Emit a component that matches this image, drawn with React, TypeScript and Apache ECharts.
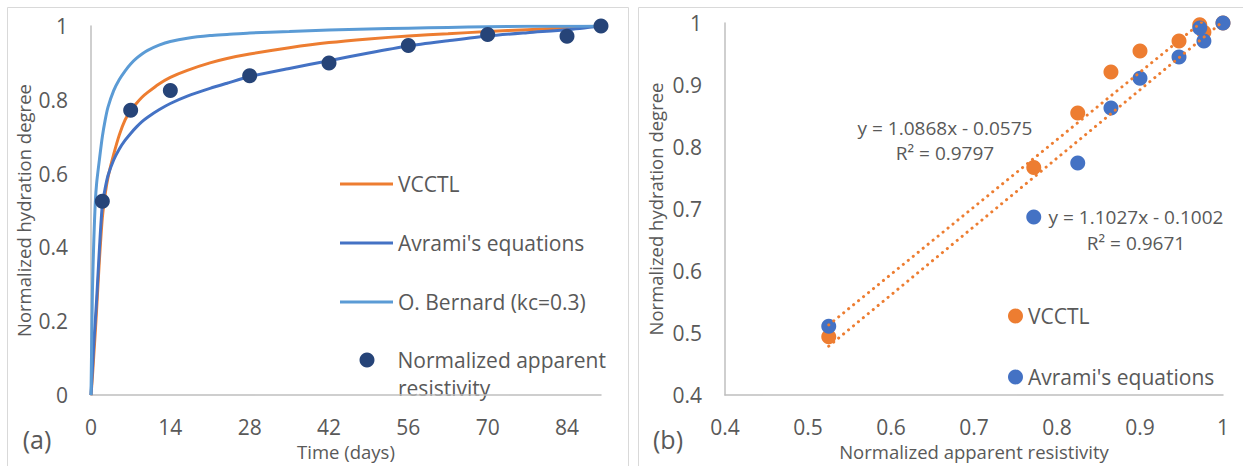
import React, { useEffect, useRef } from 'react';
import * as echarts from 'echarts';

// ---- Panel (a): model curves (days vs normalized hydration degree) ----
const curveDays = [0, 0.25, 0.5, 0.75, 1, 1.5, 2, 2.5, 3, 4, 5, 6, 7, 8, 9, 10, 12, 14, 17, 21, 24, 28, 35, 42, 49, 56, 63, 70, 77, 84, 90];
const vcctlCurve = [0, 0.05, 0.11, 0.17, 0.235, 0.37, 0.48, 0.545, 0.59, 0.652, 0.705, 0.745, 0.771, 0.79, 0.807, 0.82, 0.843, 0.861, 0.88, 0.9, 0.912, 0.924, 0.941, 0.955, 0.965, 0.973, 0.979, 0.985, 0.99, 0.995, 1.0];
const avramiCurve = [0, 0.07, 0.14, 0.2, 0.26, 0.4, 0.515, 0.56, 0.595, 0.637, 0.667, 0.69, 0.709, 0.726, 0.741, 0.753, 0.773, 0.79, 0.81, 0.831, 0.845, 0.863, 0.885, 0.906, 0.927, 0.946, 0.96, 0.973, 0.982, 0.99, 1.0];
const bernardCurve = [0, 0.28, 0.42, 0.52, 0.575, 0.64, 0.7, 0.745, 0.78, 0.825, 0.855, 0.878, 0.897, 0.912, 0.924, 0.934, 0.948, 0.958, 0.967, 0.974, 0.977, 0.981, 0.985, 0.989, 0.992, 0.994, 0.996, 0.998, 0.999, 0.999, 1.0];

// ---- Measured data ----
const measuredDays = [2, 7, 14, 28, 42, 56, 70, 84, 90];
const resistivity = [0.525, 0.772, 0.825, 0.865, 0.9, 0.947, 0.977, 0.972, 1.0];

// ---- Panel (b): model values at the measured days ----
const vcctlAtMeasured = [0.494, 0.767, 0.855, 0.921, 0.955, 0.971, 0.985, 0.997, 1.0];
const avramiAtMeasured = [0.511, 0.687, 0.774, 0.863, 0.911, 0.945, 0.971, 0.992, 1.0];

// ---- Trendlines (as printed on the chart) ----
const vcctlSlope = 1.0868;
const vcctlIntercept = -0.0575;
const vcctlR2 = '0.9797';
const avramiSlope = 1.1027;
const avramiIntercept = -0.1002;
const avramiR2 = '0.9671';

const ORANGE = '#ED7D31';
const BLUE = '#4472C4';
const LIGHT_BLUE = '#5B9BD5';
const NAVY = '#264478';
const TEXT = '#595959';
const AXIS = '#BFBFBF';
const FONT = '"Open Sans", "Noto Sans", sans-serif';

const zip = (xs: number[], ys: number[]) => xs.map((x, i) => [x, ys[i]]);

const trend = (slope: number, intercept: number) => {
  const lo = Math.min(...resistivity);
  const hi = Math.max(...resistivity);
  return [
    [lo, slope * lo + intercept],
    [hi, slope * hi + intercept],
  ];
};

export default function App() {
  const ref = useRef<HTMLDivElement>(null);

  useEffect(() => {
    if (!ref.current) return;
    const chart = echarts.init(ref.current, undefined, { renderer: 'svg' });

    const labelStyle = { color: TEXT, fontSize: 21, fontFamily: FONT };
    const nameStyle = { color: TEXT, fontSize: 18.5, fontFamily: FONT };
    const legendText = { color: TEXT, fontSize: 21, fontFamily: FONT, lineHeight: 24 };

    const lineSeries = (name: string, data: number[], color: string) => ({
      name,
      type: 'line',
      xAxisIndex: 0,
      yAxisIndex: 0,
      data: zip(curveDays, data),
      smooth: 0.25,
      symbol: 'none',
      lineStyle: { color, width: 3 },
      itemStyle: { color },
      z: 2,
    });

    const lineLegend = (name: string, top: number) => ({
      data: [{ name, icon: 'rect' }],
      left: 340,
      top,
      padding: 0,
      itemWidth: 53,
      itemHeight: 3,
      textStyle: legendText,
    });

    const option: any = {
      animation: false,
      backgroundColor: '#ffffff',
      grid: [
        { left: 91, top: 26, width: 510, height: 377 },
        { left: 725, top: 23, width: 498, height: 372 },
      ],
      xAxis: [
        {
          gridIndex: 0,
          type: 'value',
          min: 0,
          max: 90,
          interval: 14,
          name: 'Time (days)',
          nameLocation: 'middle',
          nameGap: 39,
          nameTextStyle: nameStyle,
          axisLine: { show: true, lineStyle: { color: AXIS, width: 1.5 } },
          axisTick: { show: false },
          splitLine: { show: false },
          axisLabel: { ...labelStyle, margin: 21, showMaxLabel: false },
        },
        {
          gridIndex: 1,
          type: 'value',
          min: 0.4,
          max: 1,
          interval: 0.1,
          name: 'Normalized apparent resistivity',
          nameLocation: 'middle',
          nameGap: 47,
          nameTextStyle: nameStyle,
          axisLine: { show: true, onZero: false, lineStyle: { color: AXIS, width: 1.5 } },
          axisTick: { show: false },
          splitLine: { show: false },
          axisLabel: { ...labelStyle, margin: 21 },
        },
      ],
      yAxis: [
        {
          gridIndex: 0,
          type: 'value',
          min: 0,
          max: 1,
          interval: 0.2,
          name: 'Normalized hydration degree',
          nameLocation: 'middle',
          nameGap: 58,
          nameTextStyle: nameStyle,
          axisLine: { show: true, lineStyle: { color: AXIS, width: 1.5 } },
          axisTick: { show: false },
          splitLine: { show: false },
          axisLabel: { ...labelStyle, margin: 23 },
        },
        {
          gridIndex: 1,
          type: 'value',
          min: 0.4,
          max: 1,
          interval: 0.1,
          name: 'Normalized hydration degree',
          nameLocation: 'middle',
          nameGap: 60,
          nameTextStyle: nameStyle,
          axisLine: { show: true, onZero: false, lineStyle: { color: AXIS, width: 1.5 } },
          axisTick: { show: false },
          splitLine: { show: false },
          axisLabel: { ...labelStyle, margin: 23 },
        },
      ],
      legend: [
        lineLegend('VCCTL', 172),
        lineLegend("Avrami's equations", 231),
        lineLegend('O. Bernard (kc=0.3)', 290),
        {
          data: [{ name: 'Normalized apparent resistivity', icon: 'circle' }],
          left: 359.5, top: 348, padding: 0,
          itemWidth: 15, itemHeight: 15,
          textStyle: { ...legendText, padding: [0, 0, 0, 18] },
          formatter: () => 'Normalized apparent',
        },
        {
          data: [{ name: 'VCCTL-b', icon: 'circle' }],
          left: 1008, top: 304, padding: 0,
          itemWidth: 15, itemHeight: 15, textStyle: legendText,
          formatter: () => 'VCCTL',
        },
        {
          data: [{ name: "Avrami's equations-b", icon: 'circle' }],
          left: 1008, top: 365, padding: 0,
          itemWidth: 15, itemHeight: 15, textStyle: legendText,
          formatter: () => "Avrami's equations",
        },
      ],
      series: [
        lineSeries('VCCTL', vcctlCurve, ORANGE),
        lineSeries("Avrami's equations", avramiCurve, BLUE),
        lineSeries('O. Bernard (kc=0.3)', bernardCurve, LIGHT_BLUE),
        {
          name: 'Normalized apparent resistivity',
          type: 'scatter',
          xAxisIndex: 0,
          yAxisIndex: 0,
          data: zip(measuredDays, resistivity),
          symbolSize: 15,
          itemStyle: { color: NAVY, opacity: 1 },
          z: 5,
        },
        {
          name: 'VCCTL-b',
          type: 'scatter',
          xAxisIndex: 1,
          yAxisIndex: 1,
          data: zip(resistivity, vcctlAtMeasured),
          symbolSize: 15,
          itemStyle: { color: ORANGE, opacity: 1 },
          z: 3,
        },
        {
          name: "Avrami's equations-b",
          type: 'scatter',
          xAxisIndex: 1,
          yAxisIndex: 1,
          data: zip(resistivity, avramiAtMeasured),
          symbolSize: 15,
          itemStyle: { color: BLUE, opacity: 1 },
          z: 4,
        },
        {
          name: 'trend-vcctl',
          type: 'line',
          xAxisIndex: 1,
          yAxisIndex: 1,
          data: trend(vcctlSlope, vcctlIntercept),
          symbol: 'none',
          clip: true,
          lineStyle: { color: ORANGE, width: 3, type: [0.1, 6.3], cap: 'round' },
          z: 6,
        },
        {
          name: 'trend-avrami',
          type: 'line',
          xAxisIndex: 1,
          yAxisIndex: 1,
          data: trend(avramiSlope, avramiIntercept),
          symbol: 'none',
          clip: true,
          lineStyle: { color: ORANGE, width: 3, type: [0.1, 6.3], cap: 'round' },
          z: 6,
        },
      ],
      graphic: [
        {
          type: 'rect', silent: true, z: -10,
          shape: { x: 7.5, y: 7.5, width: 621, height: 520 },
          style: { fill: 'none', stroke: '#D9D9D9', lineWidth: 1 },
        },
        {
          type: 'rect', silent: true, z: -10,
          shape: { x: 638.5, y: 7.5, width: 640, height: 520 },
          style: { fill: 'none', stroke: '#D9D9D9', lineWidth: 1 },
        },
        {
          type: 'text', left: 398, top: 377,
          style: { text: 'resistivity', fill: TEXT, font: `21px ${FONT}` },
        },
        {
          type: 'text', x: 37, y: 439,
          style: { text: '(a)', fill: TEXT, font: `25px ${FONT}`, align: 'center', verticalAlign: 'middle' },
        },
        {
          type: 'text', x: 668, y: 439,
          style: { text: '(b)', fill: TEXT, font: `25px ${FONT}`, align: 'center', verticalAlign: 'middle' },
        },
        {
          type: 'text', x: 945, y: 128,
          style: {
            text: `y = ${vcctlSlope}x - ${Math.abs(vcctlIntercept)}`,
            fill: TEXT, font: `19px ${FONT}`, align: 'center', verticalAlign: 'middle',
          },
        },
        {
          type: 'text', x: 945, y: 153,
          style: { text: `R² = ${vcctlR2}`, fill: TEXT, font: `19px ${FONT}`, align: 'center', verticalAlign: 'middle' },
        },
        {
          type: 'text', x: 1136, y: 217,
          style: {
            text: `y = ${avramiSlope}x - ${Math.abs(avramiIntercept)}`,
            fill: TEXT, font: `19px ${FONT}`, align: 'center', verticalAlign: 'middle',
          },
        },
        {
          type: 'text', x: 1136, y: 243,
          style: { text: `R² = ${avramiR2}`, fill: TEXT, font: `19px ${FONT}`, align: 'center', verticalAlign: 'middle' },
        },
      ],
    };

    chart.setOption(option);
    return () => chart.dispose();
  }, []);

  return (
    <div
      ref={ref}
      style={{ position: 'fixed', left: 0, top: 0, width: 1243, height: 466, background: '#fff' }}
    />
  );
}
